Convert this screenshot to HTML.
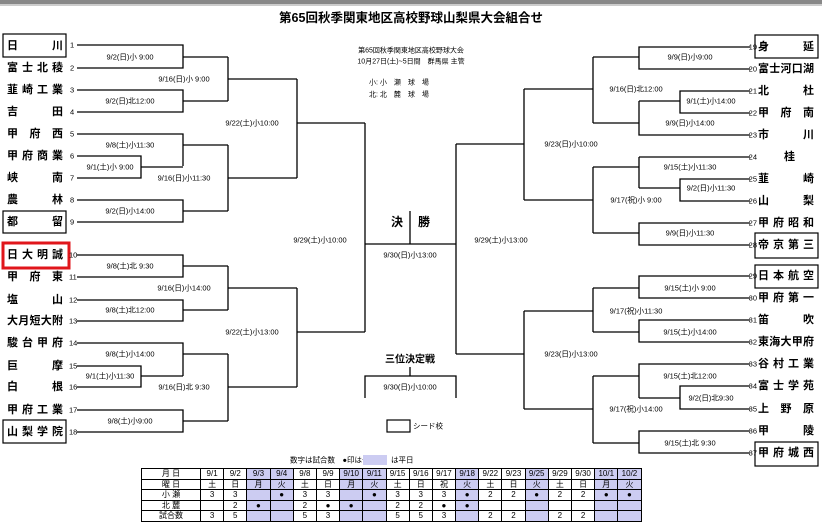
<!DOCTYPE html>
<html><head><meta charset="utf-8">
<style>
html,body{margin:0;padding:0;background:#fff;}
body{width:822px;height:523px;position:relative;overflow:hidden;font-family:"Liberation Sans","Noto Sans CJK JP",sans-serif;}
svg{position:absolute;left:0;top:0;}
.t{font-size:11px;font-weight:bold;font-family:"Liberation Sans","Noto Sans CJK JP",sans-serif;}
.s{font-size:7.5px;font-family:"Liberation Sans","Noto Sans CJK JP",sans-serif;}
.n{font-size:7.5px;font-family:"Liberation Sans",sans-serif;}
table{position:absolute;left:141px;top:468px;border-collapse:collapse;font-size:8px;font-family:"Liberation Sans","Noto Sans CJK JP",sans-serif;}
td{border:1px solid #000;height:9.5px;padding:0;text-align:center;line-height:9px;width:22.2px;}
td.h{width:58px;}
td.b{background:#ccccf2;}
</style></head><body>
<div style="position:absolute;left:0;top:0;width:822px;height:4px;background:#888;"></div>
<div style="position:absolute;left:0;top:4px;width:822px;height:2px;background:#ccc;"></div>
<svg width="822" height="523" viewBox="0 0 822 523">
<g fill="none" stroke="#000" stroke-width="1.3">
<path d="M77 45H183V68H77M183 57H228M77 90H183V112H77M183 101H228M228 57V101M228 79H297
M77 134H183V166M77 156H141V178H77M141 167H183M183 145H228M77 200H183V222H77M183 211H228M228 145V211M228 178H297M297 79V178M297 123H365
M77 255H183V277H77M183 266H228M77 300H183V321H77M183 310H228M228 266V310M228 288H297
M77 343H183V376M77 366H141V387H77M141 376H183M183 354H228M77 410H183V432H77M183 421H228M228 354V421M228 387H297M297 288V387M297 332H365M365 123V332
M365 244H456M410 211V244
M456 144V354M456 144H524M456 354H524
M524 89V200M524 89H593M524 200H593M593 57V123M593 57H639M593 123H639
M750 47H639V69H750M750 91H680V113H750M680 101H639M750 135H639V101
M593 167H639M639 157V188M750 157H639M750 179H680V201H750M680 188H639
M593 233H639M750 223H639V245H750M593 167V233
M524 311V409M524 311H593M524 409H593M593 288V332M593 288H639M593 332H639
M750 276H639V298H750M750 320H639V342H750
M593 376V443M593 376H639M593 443H639M750 364H639V398M750 386H680V409H750M680 398H639M750 431H639V453H750
M365 398V376H456V398M410 367V376"/>
</g>
<g fill="none" stroke="#000" stroke-width="1.2">
<rect x="3" y="34" width="63" height="23"/>
<rect x="3" y="211" width="63" height="22"/>
<rect x="3" y="420" width="63" height="23"/>
<rect x="755" y="35" width="63" height="23"/>
<rect x="755" y="233" width="63" height="25"/>
<rect x="755" y="265" width="63" height="23"/>
<rect x="755" y="442" width="63" height="24"/>
<rect x="387" y="420" width="23" height="12"/>
</g>
<rect x="3" y="243" width="66" height="25" fill="none" stroke="#e0161b" stroke-width="3"/>
<text x="411" y="22" text-anchor="middle" style="font-size:12.5px;font-weight:bold;font-family:'Liberation Sans','Noto Sans CJK JP',sans-serif">第65回秋季関東地区高校野球山梨県大会組合せ</text>
<g class="s" dominant-baseline="central">
<text x="411" y="51" text-anchor="middle" style="font-size:7px">第65回秋季関東地区高校野球大会</text>
<text x="411" y="62" text-anchor="middle" style="font-size:7px">10月27日(土)~5日間　群馬県 主管</text>
<text x="369" y="83" style="font-size:7px">小:  小　瀬　球　場</text>
<text x="369" y="95" style="font-size:7px">北:  北　麓　球　場</text>
</g>
<g class="t" dominant-baseline="central">
<text x="7" y="46" textLength="56" lengthAdjust="spacing">日川</text>
<text x="7" y="68" textLength="56" lengthAdjust="spacing">富士北稜</text>
<text x="7" y="90" textLength="56" lengthAdjust="spacing">韮崎工業</text>
<text x="7" y="112" textLength="56" lengthAdjust="spacing">吉田</text>
<text x="7" y="134" textLength="56" lengthAdjust="spacing">甲府西</text>
<text x="7" y="156" textLength="56" lengthAdjust="spacing">甲府商業</text>
<text x="7" y="178" textLength="56" lengthAdjust="spacing">峡南</text>
<text x="7" y="200" textLength="56" lengthAdjust="spacing">農林</text>
<text x="7" y="222" textLength="56" lengthAdjust="spacing">都留</text>
<text x="7" y="255" textLength="56" lengthAdjust="spacing">日大明誠</text>
<text x="7" y="277" textLength="56" lengthAdjust="spacing">甲府東</text>
<text x="7" y="300" textLength="56" lengthAdjust="spacing">塩山</text>
<text x="7" y="321" textLength="56" lengthAdjust="spacing">大月短大附</text>
<text x="7" y="343" textLength="56" lengthAdjust="spacing">駿台甲府</text>
<text x="7" y="366" textLength="56" lengthAdjust="spacing">巨摩</text>
<text x="7" y="387" textLength="56" lengthAdjust="spacing">白根</text>
<text x="7" y="410" textLength="56" lengthAdjust="spacing">甲府工業</text>
<text x="7" y="432" textLength="56" lengthAdjust="spacing">山梨学院</text>
<text x="758" y="47" textLength="56" lengthAdjust="spacing">身延</text>
<text x="758" y="69" textLength="56" lengthAdjust="spacing">富士河口湖</text>
<text x="758" y="91" textLength="56" lengthAdjust="spacing">北杜</text>
<text x="758" y="113" textLength="56" lengthAdjust="spacing">甲府南</text>
<text x="758" y="135" textLength="56" lengthAdjust="spacing">市川</text>
<text x="784" y="157">桂</text>
<text x="758" y="179" textLength="56" lengthAdjust="spacing">韮崎</text>
<text x="758" y="201" textLength="56" lengthAdjust="spacing">山梨</text>
<text x="758" y="223" textLength="56" lengthAdjust="spacing">甲府昭和</text>
<text x="758" y="245" textLength="56" lengthAdjust="spacing">帝京第三</text>
<text x="758" y="276" textLength="56" lengthAdjust="spacing">日本航空</text>
<text x="758" y="298" textLength="56" lengthAdjust="spacing">甲府第一</text>
<text x="758" y="320" textLength="56" lengthAdjust="spacing">笛吹</text>
<text x="758" y="342" textLength="56" lengthAdjust="spacing">東海大甲府</text>
<text x="758" y="364" textLength="56" lengthAdjust="spacing">谷村工業</text>
<text x="758" y="386" textLength="56" lengthAdjust="spacing">富士学苑</text>
<text x="758" y="409" textLength="56" lengthAdjust="spacing">上野原</text>
<text x="758" y="431" textLength="56" lengthAdjust="spacing">甲陵</text>
<text x="758" y="453" textLength="56" lengthAdjust="spacing">甲府城西</text>
<text x="403" y="222" text-anchor="end" style="font-size:12px">決</text>
<text x="418" y="222" style="font-size:12px">勝</text>
<text x="410" y="360" text-anchor="middle" style="font-size:10px">三位決定戦</text>
</g>
<g class="n" dominant-baseline="central">
<text x="70" y="45">1</text><text x="70" y="68">2</text><text x="70" y="90">3</text><text x="70" y="112">4</text><text x="70" y="134">5</text><text x="70" y="156">6</text><text x="70" y="178">7</text><text x="70" y="200">8</text><text x="70" y="222">9</text><text x="69" y="255">10</text><text x="69" y="277">11</text><text x="69" y="300">12</text><text x="69" y="321">13</text><text x="69" y="343">14</text><text x="69" y="366">15</text><text x="69" y="387">16</text><text x="69" y="410">17</text><text x="69" y="432">18</text>
<g text-anchor="end">
<text x="757" y="47">19</text><text x="757" y="69">20</text><text x="757" y="91">21</text><text x="757" y="113">22</text><text x="757" y="135">23</text><text x="757" y="157">24</text><text x="757" y="179">25</text><text x="757" y="201">26</text><text x="757" y="223">27</text><text x="757" y="245">28</text><text x="757" y="276">29</text><text x="757" y="298">30</text><text x="757" y="320">31</text><text x="757" y="342">32</text><text x="757" y="364">33</text><text x="757" y="386">34</text><text x="757" y="409">35</text><text x="757" y="431">36</text><text x="757" y="453">37</text>
</g>
</g>
<g class="s" dominant-baseline="central" text-anchor="middle">
<text x="130" y="57">9/2(日)小 9:00</text>
<text x="130" y="101">9/2(日)北12:00</text>
<text x="130" y="145">9/8(土)小11:30</text>
<text x="110" y="167">9/1(土)小 9:00</text>
<text x="130" y="211">9/2(日)小14:00</text>
<text x="184" y="79">9/16(日)小 9:00</text>
<text x="184" y="178">9/16(日)小11:30</text>
<text x="252" y="123">9/22(土)小10:00</text>
<text x="130" y="266">9/8(土)北 9:30</text>
<text x="130" y="310">9/8(土)北12:00</text>
<text x="184" y="288">9/16(日)小14:00</text>
<text x="130" y="354">9/8(土)小14:00</text>
<text x="110" y="376">9/1(土)小11:30</text>
<text x="184" y="387">9/16(日)北 9:30</text>
<text x="130" y="421">9/8(土)小9:00</text>
<text x="252" y="332">9/22(土)小13:00</text>
<text x="320" y="240">9/29(土)小10:00</text>
<text x="410" y="255">9/30(日)小13:00</text>
<text x="410" y="387">9/30(日)小10:00</text>
<text x="501" y="240">9/29(土)小13:00</text>
<text x="690" y="57">9/9(日)小9:00</text>
<text x="711" y="101">9/1(土)小14:00</text>
<text x="690" y="123">9/9(日)小14:00</text>
<text x="636" y="89">9/16(日)北12:00</text>
<text x="690" y="167">9/15(土)小11:30</text>
<text x="711" y="188">9/2(日)小11:30</text>
<text x="636" y="200">9/17(祝)小 9:00</text>
<text x="690" y="233">9/9(日)小11:30</text>
<text x="571" y="144">9/23(日)小10:00</text>
<text x="690" y="288">9/15(土)小 9:00</text>
<text x="636" y="311">9/17(祝)小11:30</text>
<text x="690" y="332">9/15(土)小14:00</text>
<text x="571" y="354">9/23(日)小13:00</text>
<text x="690" y="376">9/15(土)北12:00</text>
<text x="711" y="398">9/2(日)北9:30</text>
<text x="636" y="409">9/17(祝)小14:00</text>
<text x="690" y="443">9/15(土)北 9:30</text>
</g>
<text x="413" y="426" class="s" dominant-baseline="central">シード校</text>
<text x="290" y="460" class="s" dominant-baseline="central">数字は試合数　●印は予備日</text>
<rect x="363" y="455" width="24" height="10" fill="#ccccf2"/>
<text x="391" y="460" class="s" dominant-baseline="central">は平日</text>
</svg>
<table>
<tr><td class="h">月 日</td><td>9/1</td><td>9/2</td><td class="b">9/3</td><td class="b">9/4</td><td>9/8</td><td>9/9</td><td class="b">9/10</td><td class="b">9/11</td><td>9/15</td><td>9/16</td><td>9/17</td><td class="b">9/18</td><td>9/22</td><td>9/23</td><td class="b">9/25</td><td>9/29</td><td>9/30</td><td class="b">10/1</td><td class="b">10/2</td></tr>
<tr><td class="h">曜 日</td><td>土</td><td>日</td><td class="b">月</td><td class="b">火</td><td>土</td><td>日</td><td class="b">月</td><td class="b">火</td><td>土</td><td>日</td><td>祝</td><td class="b">火</td><td>土</td><td>日</td><td class="b">火</td><td>土</td><td>日</td><td class="b">月</td><td class="b">火</td></tr>
<tr><td class="h">小 瀬</td><td>3</td><td>3</td><td class="b"></td><td class="b">●</td><td>3</td><td>3</td><td class="b"></td><td class="b">●</td><td>3</td><td>3</td><td>3</td><td class="b">●</td><td>2</td><td>2</td><td class="b">●</td><td>2</td><td>2</td><td class="b">●</td><td class="b">●</td></tr>
<tr><td class="h">北 麓</td><td></td><td>2</td><td class="b">●</td><td class="b"></td><td>2</td><td>●</td><td class="b">●</td><td class="b"></td><td>2</td><td>2</td><td>●</td><td class="b">●</td><td></td><td></td><td class="b"></td><td></td><td></td><td class="b"></td><td class="b"></td></tr>
<tr><td class="h">試合数</td><td>3</td><td>5</td><td class="b"></td><td class="b"></td><td>5</td><td>3</td><td class="b"></td><td class="b"></td><td>5</td><td>5</td><td>3</td><td class="b"></td><td>2</td><td>2</td><td class="b"></td><td>2</td><td>2</td><td class="b"></td><td class="b"></td></tr>
</table>
</body></html>
